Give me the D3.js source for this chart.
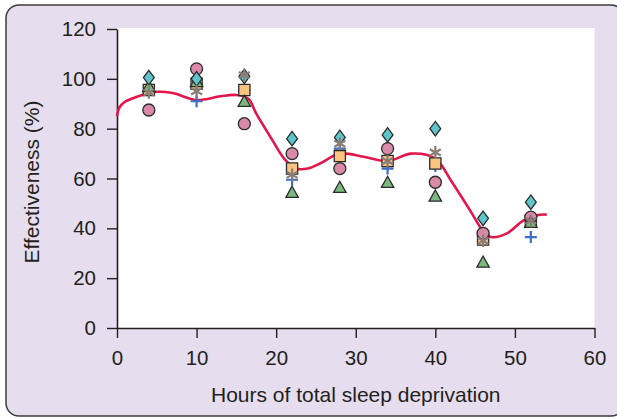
<!DOCTYPE html>
<html>
<head>
<meta charset="utf-8">
<script src="https://cdn.jsdelivr.net/npm/d3@7"></script>
<style>
  html, body { margin: 0; padding: 0; background: #ffffff; }
  svg { display: block; }
  text { font-family: "Liberation Sans", Arial, sans-serif; fill: #231f20; }
</style>
</head>
<body>
<svg id="chart" width="617" height="418"></svg>
<script>
// ---- data ----
const hours = [4, 10, 16, 22, 28, 34, 40, 46, 52];
const diamondSeries  = [100.5, 100, 101, 76, 76.5, 77.5, 80, 44, 50.5];
const circleSeries   = [87.5, 104, 82, 70, 64, 72, 58.5, 38, 44.5];
const squareSeries   = [95.5, 98, 95.5, 64, 69, 67, 66, 35.5, 43];
const triangleSeries = [97, 99, 91, 54.5, 56.5, 58.5, 53, 26.5, 42.5];
const asteriskSeries = [94.5, 95, 101.5, 61.5, 74, 67, 70.5, 35, 43];
const plusSeries     = [95.5, 91, 95.5, 59.5, 72, 64, 65, 35.5, 36.5];
const fitX = [0, 0.3, 1, 2, 3.3, 5, 7, 10, 13, 15, 16.5, 17.5, 19.5, 21, 22.5, 24, 25.5, 28, 31, 34, 37, 40, 42, 44.4, 46, 47, 49, 51, 52.8, 54];
const fitY = [85, 88.5, 90.8, 92.2, 93.6, 94.8, 94.3, 91.5, 93, 93.5, 92, 86, 75.5, 68, 64, 64, 66, 70, 68.7, 67, 70, 68, 59, 47, 39, 36.5, 38, 43, 45.3, 45.5];
const xTicks = [0, 10, 20, 30, 40, 50, 60];
const yTicks = [0, 20, 40, 60, 80, 100, 120];
const xTitle = "Hours of total sleep deprivation";
const yTitle = "Effectiveness (%)";

// ---- layout ----
const svg = d3.select("#chart");
const mLeft = 117, mRight = 594.5, mTop = 29, mBottom = 328;

svg.append("rect").attr("x", 6).attr("y", 5).attr("width", 618).attr("height", 411)
  .attr("rx", 13).attr("ry", 13)
  .attr("fill", "#e6deee").attr("stroke", "#3d3d3f").attr("stroke-width", 1.5);

svg.append("rect").attr("x", mLeft).attr("y", mTop - 1).attr("width", mRight - mLeft).attr("height", mBottom - mTop + 1)
  .attr("fill", "#ffffff");

const x = d3.scaleLinear().domain([0, 60]).range([mLeft, mRight]);
const y = d3.scaleLinear().domain([0, 120]).range([mBottom, mTop]);

// axes
const fs = 20.5;
const xAxis = svg.append("g").attr("transform", `translate(0,${mBottom})`)
  .call(d3.axisBottom(x).tickValues(xTicks).tickSize(10).tickSizeOuter(0).tickPadding(12.4));
const yAxis = svg.append("g").attr("transform", `translate(${mLeft},0)`)
  .call(d3.axisLeft(y).tickValues(yTicks).tickSize(10).tickSizeOuter(0).tickPadding(11));
[xAxis, yAxis].forEach(g => {
  g.select(".domain").attr("stroke", "#231f20").attr("stroke-width", 1.6);
  g.selectAll(".tick line").attr("stroke", "#231f20").attr("stroke-width", 1.4);
  g.selectAll(".tick text").attr("font-size", fs).attr("font-family", "Liberation Sans, Arial, sans-serif").attr("fill", "#231f20");
});

svg.append("text").attr("x", (mLeft + mRight) / 2).attr("y", 401.5)
  .attr("text-anchor", "middle").attr("font-size", 21).text(xTitle);
svg.append("text").attr("transform", `translate(39,182) rotate(-90)`)
  .attr("text-anchor", "middle").attr("font-size", 21).text(yTitle);

// fitted curve
const fit = fitX.map((v, i) => [v, fitY[i]]);
svg.append("path").datum(fit)
  .attr("d", d3.line().x(d => x(d[0])).y(d => y(d[1])).curve(d3.curveCatmullRom.alpha(0.5)))
  .attr("fill", "none").attr("stroke", "#e4174c").attr("stroke-width", 2.6);

// symbol types
const shapes = {
  square: { draw(c) { const s = 5.6; c.rect(-s, -s, 2 * s, 2 * s); } },
  circle: { draw(c) { c.moveTo(6, 0); c.arc(0, 0, 6, 0, 2 * Math.PI); } },
  triangle: { draw(c) { c.moveTo(0, -6); c.lineTo(6.2, 5.2); c.lineTo(-6.2, 5.2); c.closePath(); } },
  diamond: { draw(c) { c.moveTo(0, -7.2); c.lineTo(5.4, 0); c.lineTo(0, 7.2); c.lineTo(-5.4, 0); c.closePath(); } },
  asterisk: { draw(c) { const r = 6.3; for (let k = 0; k < 3; k++) { const a = Math.PI / 2 + k * Math.PI / 3; c.moveTo(r * Math.cos(a), r * Math.sin(a)); c.lineTo(-r * Math.cos(a), -r * Math.sin(a)); } } },
  plus: { draw(c) { const r = 6; c.moveTo(-r, 0); c.lineTo(r, 0); c.moveTo(0, -r); c.lineTo(0, r); } }
};

const seriesList = [
  { vals: plusSeries, shape: "plus", fill: "none", stroke: "#3c6ec3", sw: 2.2 },
  { vals: squareSeries, shape: "square", fill: "#fcc47e", stroke: "#2b2b2b", sw: 1.3 },
  { vals: circleSeries, shape: "circle", fill: "#d98aa9", stroke: "#2b2b2b", sw: 1.3 },
  { vals: triangleSeries, shape: "triangle", fill: "#7bb87f", stroke: "#2b2b2b", sw: 1.3 },
  { vals: diamondSeries, shape: "diamond", fill: "#5ec6cb", stroke: "#2b2b2b", sw: 1.3 },
  { vals: asteriskSeries, shape: "asterisk", fill: "none", stroke: "#8a7c76", sw: 2.2 }
];

seriesList.forEach(s => {
  const sym = d3.symbol().type(shapes[s.shape]);
  svg.append("g").selectAll("path").data(hours.map((h, i) => [h, s.vals[i]])).join("path")
    .attr("transform", d => `translate(${x(d[0])},${y(d[1])})`)
    .attr("d", sym)
    .attr("fill", s.fill).attr("stroke", s.stroke).attr("stroke-width", s.sw);
});
</script>
</body>
</html>
